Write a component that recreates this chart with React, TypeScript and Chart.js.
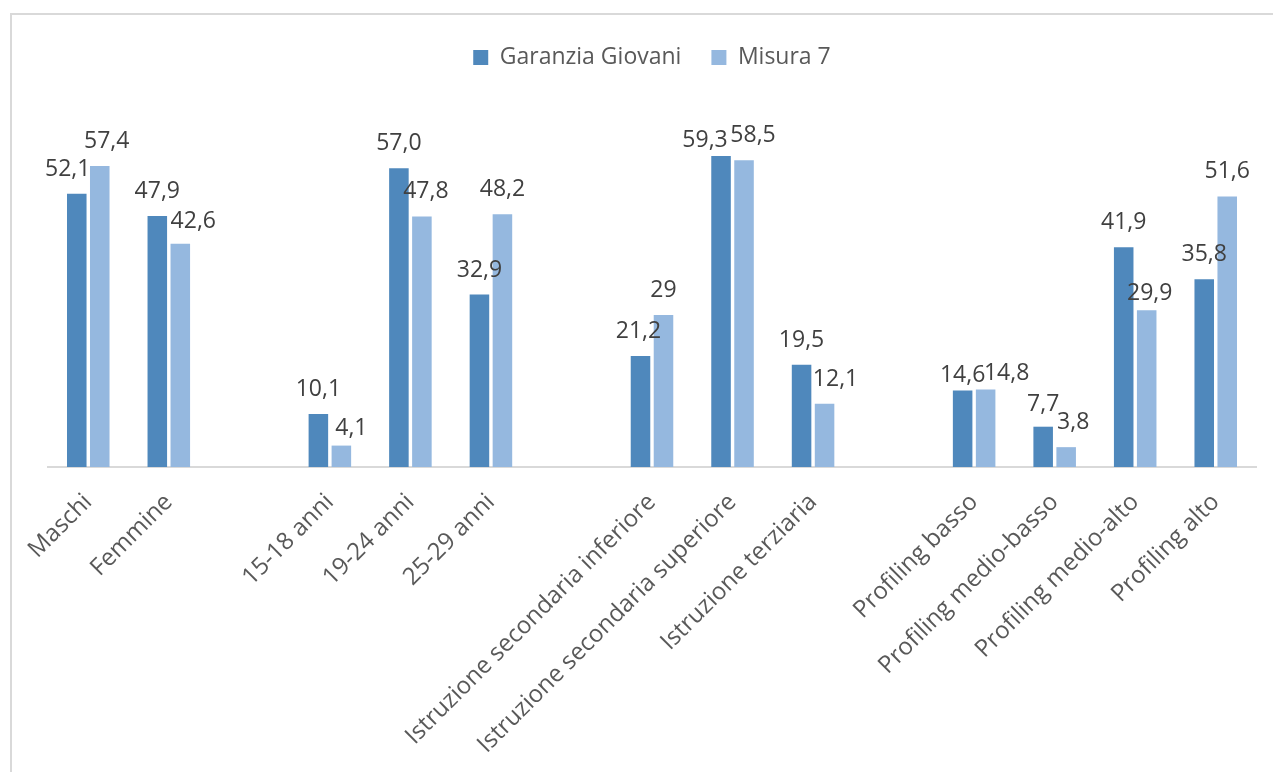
import { useEffect, useRef } from "react";
import { Chart, registerables } from "chart.js";

Chart.register(...registerables);

// Categories; empty strings leave a gap between the groups
const categories = [
  "Maschi", "Femmine", "",
  "15-18 anni", "19-24 anni", "25-29 anni", "",
  "Istruzione secondaria inferiore", "Istruzione secondaria superiore", "Istruzione terziaria", "",
  "Profiling basso", "Profiling medio-basso", "Profiling medio-alto", "Profiling alto",
];

// Values as printed on the bars (Italian decimal comma)
const garanziaGiovani = [
  "52,1", "47,9", null,
  "10,1", "57,0", "32,9", null,
  "21,2", "59,3", "19,5", null,
  "14,6", "7,7", "41,9", "35,8",
];
const misura7 = [
  "57,4", "42,6", null,
  "4,1", "47,8", "48,2", null,
  "29", "58,5", "12,1", null,
  "14,8", "3,8", "29,9", "51,6",
];

const seriesNames = ["Garanzia Giovani", "Misura 7"];

// Label nudges [dx, dy] in pixels, per series and category
const labelNudges = [
  [[-9, 0], [0, 0], null, [0, 0], [0, 0], [0, 0], null, [-2, 0], [-16, 9], [0, 0], null, [0, 9], [0, 2], [0, 0], [0, 0]],
  [[7, 0], [13, 2], null, [10, 7], [4, 0], [0, 0], null, [0, 0], [9, 0], [11, 0], null, [21, 9], [7, 0], [3, 8], [0, 0]],
];

const toNumber = (s: string | null) => (s == null ? null : parseFloat(s.replace(",", ".")));

const FONT = "'Open Sans', 'Noto Sans', sans-serif";

const valueLabels = {
  id: "valueLabels",
  afterDatasetsDraw(chart: any) {
    const ctx = chart.ctx;
    const texts = [garanziaGiovani, misura7];
    ctx.save();
    ctx.font = `23px ${FONT}`;
    ctx.fillStyle = "#404040";
    ctx.textAlign = "center";
    ctx.textBaseline = "alphabetic";
    chart.data.datasets.forEach((_: any, di: number) => {
      const meta = chart.getDatasetMeta(di);
      meta.data.forEach((bar: any, i: number) => {
        const t = texts[di][i];
        if (t == null) return;
        const n = labelNudges[di][i] || [0, 0];
        ctx.fillText(t, bar.x + n[0], bar.y - 18 + n[1]);
      });
    });
    ctx.restore();
  },
};

export default function App() {
  const canvasRef = useRef<HTMLCanvasElement | null>(null);

  useEffect(() => {
    if (!canvasRef.current) return;
    const chart = new Chart(canvasRef.current, {
      type: "bar",
      data: {
        labels: categories,
        datasets: [
          {
            label: seriesNames[0],
            data: garanziaGiovani.map(toNumber),
            backgroundColor: "#4F88BC",
            categoryPercentage: 0.571,
            barPercentage: 0.85,
          },
          {
            label: seriesNames[1],
            data: misura7.map(toNumber),
            backgroundColor: "#95B8DF",
            categoryPercentage: 0.571,
            barPercentage: 0.85,
          },
        ],
      },
      options: {
        animation: false,
        responsive: false,
        layout: { padding: { left: 48, right: 17, top: 16, bottom: 0 } },
        plugins: {
          legend: {
            position: "top",
            labels: {
              boxWidth: 15,
              boxHeight: 15,
              padding: 30,
              color: "#595959",
              font: { family: FONT, size: 23 },
            },
          },
          tooltip: { enabled: false },
        },
        scales: {
          x: {
            grid: { display: false },
            border: { display: true, color: "#D9D9D9", width: 2 },
            ticks: {
              color: "#595959",
              font: { family: FONT, size: 24 },
              maxRotation: 45,
              minRotation: 45,
              autoSkip: false,
              padding: 13,
            },
          },
          y: {
            display: false,
            min: 0,
            max: 74,
          },
        },
      },
      plugins: [valueLabels],
    });
    return () => chart.destroy();
  }, []);

  return (
    <div style={{ position: "fixed", left: 0, top: 0, width: 1273, height: 772, background: "#fff" }}>
      <div
        style={{
          position: "absolute",
          left: 10,
          top: 13,
          right: -4,
          bottom: -4,
          borderLeft: "2px solid #D9D9D9",
          borderTop: "2px solid #D9D9D9",
        }}
      />
      <canvas ref={canvasRef} width={1273} height={772} style={{ position: "absolute", left: 0, top: 0 }} />
    </div>
  );
}
